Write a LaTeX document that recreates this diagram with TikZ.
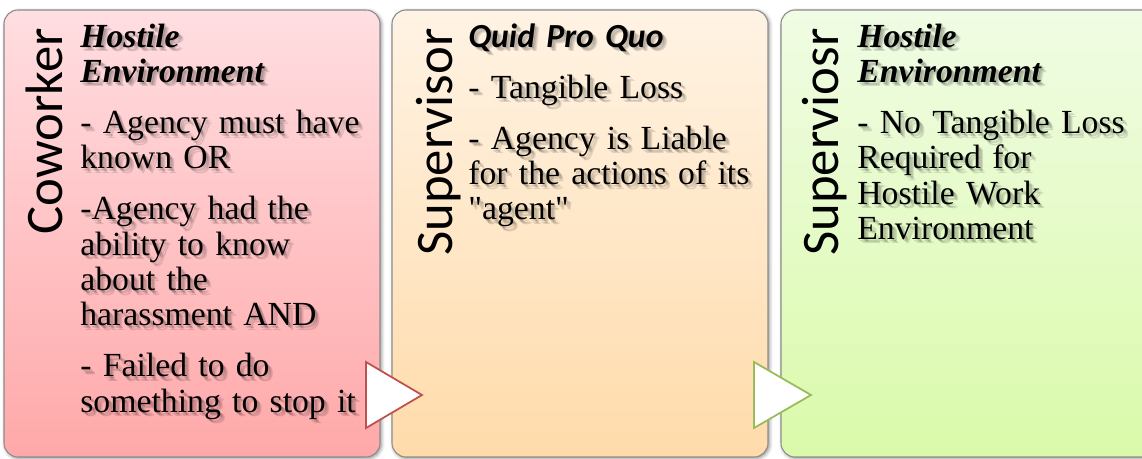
\documentclass[tikz,border=0pt]{standalone}
\usepackage{fontspec}
\setmainfont{Liberation Serif}
\newfontfamily\sidefont{Carlito}
\usetikzlibrary{shadows.blur}

\definecolor{redtop}{RGB}{255,222,225}
\definecolor{redbot}{RGB}{255,168,169}
\definecolor{orangetop}{RGB}{255,243,228}
\definecolor{orangebot}{RGB}{255,219,170}
\definecolor{greentop}{RGB}{240,252,228}
\definecolor{greenbot}{RGB}{218,250,170}
\definecolor{redline}{RGB}{192,80,77}
\definecolor{greenline}{RGB}{155,187,89}

\tikzset{
  panel/.style={draw=black!45, line width=0.6pt, rounded corners=0.28cm,
    blur shadow={shadow xshift=0.8pt, shadow yshift=-0.8pt, shadow blur radius=2pt, shadow opacity=45}},
  sidelabel/.style={rotate=90, anchor=base east, inner sep=0pt,
    font=\sidefont\fontsize{30}{30}\selectfont},
  body/.style={anchor=base west, inner sep=0pt, align=left, text width=5.9cm,
    font=\fontsize{19.2}{20.1}\selectfont},
  arrowtri/.style={fill=white, line width=1pt, line join=miter}
}
% body text with a soft drop shadow behind it
\newcommand\shadowbody[4]{%
  \foreach \d in {1.0,1.8,2.6}
    \node[body, opacity=0.12, xshift=\d pt, yshift=-\d pt] at (#2,#3) {#4};
  \node[body] (#1) at (#2,#3) {#4};
}

\begin{document}
\begin{tikzpicture}[x=0.02cm, y=0.02cm]
			%%%%% START %%%%%
			\useasboundingbox (0,0) rectangle (1142,458);
			
			% coworker panel
			\path[panel, top color=redtop, bottom color=redbot] (4, 1) rectangle (380, 448);
			\node[sidelabel] (coworker) at (62, 430) {Coworker};
			\shadowbody{cowtext}{80}{411}{%
				\textbf{\textit{Hostile}}\\
				\textbf{\textit{Environment}}\\[9pt]
				- Agency must have\\
				known OR\\[9pt]
				-Agency had the\\
				ability to know\\
				about the\\
				harassment AND\\[9pt]
				- Failed to do\\
				something to stop it}
			
			% supervisor panel, quid pro quo
			\path[panel, top color=orangetop, bottom color=orangebot] (392, 1) rectangle (768, 448);
			\node[sidelabel] (supquid) at (452, 430) {Supervisor};
			\shadowbody{quidtext}{468}{411}{%
				{\sidefont\bfseries\itshape Quid Pro Quo}\\[9pt]
				- Tangible Loss\\[9pt]
				- Agency is Liable\\
				for the actions of its\\
				\textquotedbl agent\textquotedbl}
			
			\draw[arrowtri, draw=redline] (366, 96) -- (422, 63) -- (366, 30) -- cycle;
			
			% supervisor panel, hostile environment
			\path[panel, top color=greentop, bottom color=greenbot] (781, 1) rectangle (1165, 448);
			\node[sidelabel] (suphost) at (838, 430) {Superviosr};
			\shadowbody{hosttext}{857}{411}{%
				\textbf{\textit{Hostile}}\\
				\textbf{\textit{Environment}}\\[9pt]
				- No Tangible Loss\\
				Required for\\
				Hostile Work\\
				Environment}
			
			\draw[arrowtri, draw=greenline] (754, 96) -- (811, 63) -- (754, 30) -- cycle;
			
			%%%%% END %%%%%
\end{tikzpicture}
\end{document}
